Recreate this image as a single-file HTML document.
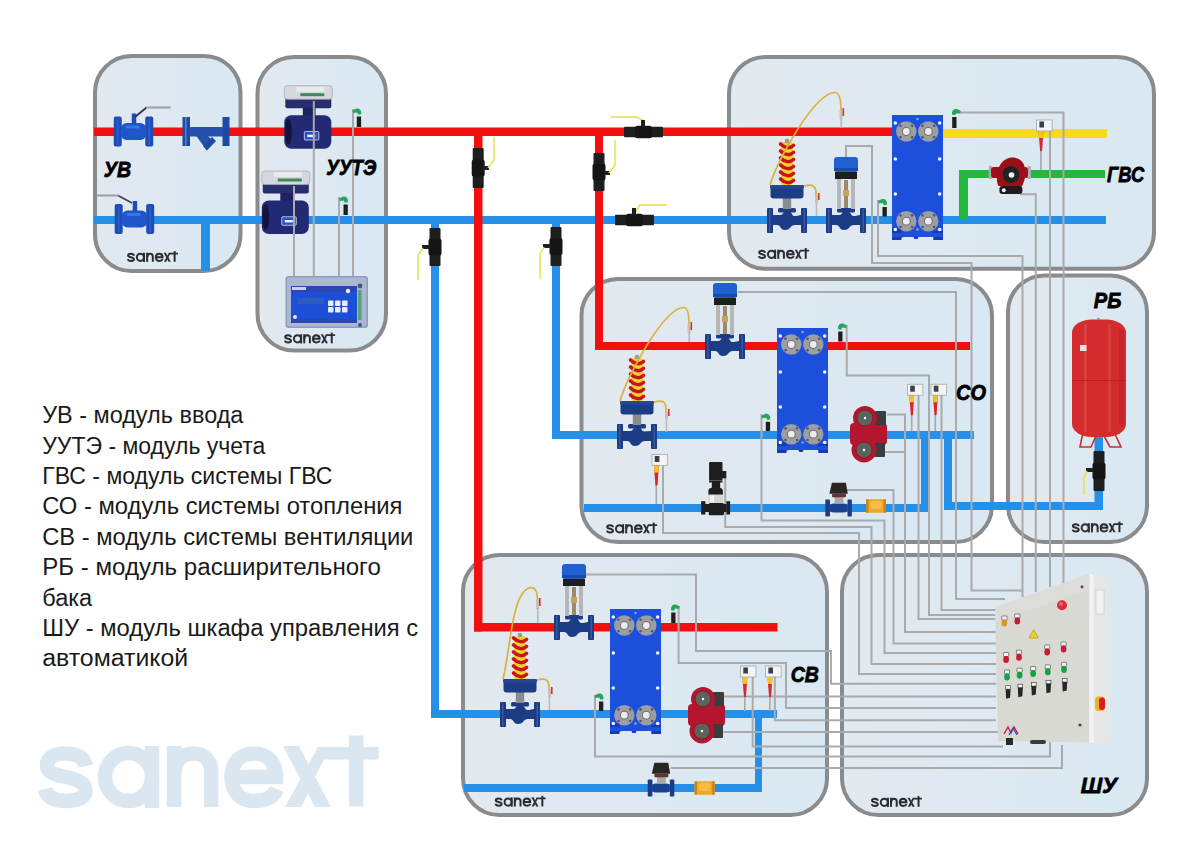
<!DOCTYPE html>
<html><head><meta charset="utf-8"><title>Тепловой пункт</title>
<style>html,body{margin:0;padding:0;background:#fff;}body{width:1200px;height:852px;overflow:hidden;font-family:"Liberation Sans",sans-serif;}svg{display:block;}</style>
</head><body>
<svg width="1200" height="852" viewBox="0 0 1200 852">
<defs><linearGradient id="bf" x1="0" y1="0" x2="1" y2="0"><stop offset="0" stop-color="#e2e9ef"/><stop offset="1" stop-color="#d9e8f2"/></linearGradient></defs>
<rect width="1200" height="852" fill="#ffffff"/>
<defs><g id="logo"><path d="M86,766 C84,757 76,753.5 65.5,753.5 C54,753.5 47,758 47,765.5 C47,773 56,775 66,777 C78,779.5 85.5,783 85.5,790.5 C85.5,798 77,801 66,801 C55,801 47,797.5 45,789" fill="none" stroke-width="14.5"/><ellipse cx="128.5" cy="777" rx="23.5" ry="24" fill="none" stroke-width="14.5"/><rect x="144.8" y="746" width="14.5" height="62" stroke="none"/><rect x="166.8" y="746" width="14.5" height="61" stroke="none"/><path d="M174,777 C174,760 182,753.5 193,753.5 C204,753.5 211.2,760 211.2,772 L211.2,807" fill="none" stroke-width="14.5"/><path d="M277,789 C273,798 265,801 253.5,801 C240,801 231.5,791 231.5,777 C231.5,762 241,753.5 253.5,753.5 C267,753.5 276,762 276,777 L231.5,777" fill="none" stroke-width="14.5"/><path d="M283,746 L298.95,746 L331,807 L315.05,807 Z" stroke="none"/><path d="M300.95,807 L285,807 L303,774 L311,788 Z" stroke="none"/><path d="M307,767 L318,747 L378.5,747 L378.5,759.47 L324,759.47 L314,779 Z" stroke="none"/><rect x="348.95" y="735.5" width="14.5" height="71" stroke="none"/></g><g id="logos"><path d="M86,766 C84,757 76,753.5 65.5,753.5 C54,753.5 47,758 47,765.5 C47,773 56,775 66,777 C78,779.5 85.5,783 85.5,790.5 C85.5,798 77,801 66,801 C55,801 47,797.5 45,789" fill="none" stroke-width="13.2"/><ellipse cx="128.5" cy="777" rx="23.5" ry="24" fill="none" stroke-width="13.2"/><rect x="146.10000000000002" y="746" width="13.2" height="62" stroke="none"/><rect x="166.8" y="746" width="13.2" height="61" stroke="none"/><path d="M174,777 C174,760 182,753.5 193,753.5 C204,753.5 211.2,760 211.2,772 L211.2,807" fill="none" stroke-width="13.2"/><path d="M277,789 C273,798 265,801 253.5,801 C240,801 231.5,791 231.5,777 C231.5,762 241,753.5 253.5,753.5 C267,753.5 276,762 276,777 L231.5,777" fill="none" stroke-width="13.2"/><path d="M283,746 L297.52,746 L331,807 L316.48,807 Z" stroke="none"/><path d="M299.52,807 L285,807 L303,774 L311,788 Z" stroke="none"/><path d="M307,767 L318,747 L378.5,747 L378.5,758.352 L324,758.352 L314,779 Z" stroke="none"/><rect x="349.59999999999997" y="735.5" width="13.2" height="71" stroke="none"/></g></defs>
<use href="#logo" fill="#dae7f1" stroke="#dae7f1"/>
<rect x="95" y="56" width="145.5" height="215" rx="36.5" ry="36.5" fill="url(#bf)" stroke="#898b8d" stroke-width="4"/>
<rect x="257.5" y="57" width="128.5" height="293.5" rx="36.5" ry="36.5" fill="url(#bf)" stroke="#898b8d" stroke-width="4"/>
<rect x="729" y="57" width="425" height="211.8" rx="36.5" ry="36.5" fill="url(#bf)" stroke="#898b8d" stroke-width="4"/>
<rect x="581.5" y="279" width="410.5" height="263" rx="36.5" ry="36.5" fill="url(#bf)" stroke="#898b8d" stroke-width="4"/>
<rect x="1008" y="275.5" width="139" height="266.5" rx="36.5" ry="36.5" fill="url(#bf)" stroke="#898b8d" stroke-width="4"/>
<rect x="463" y="555" width="364" height="260" rx="36.5" ry="36.5" fill="url(#bf)" stroke="#898b8d" stroke-width="4"/>
<rect x="842" y="555" width="305" height="260" rx="36.5" ry="36.5" fill="url(#bf)" stroke="#898b8d" stroke-width="4"/>
<rect x="94" y="127.5" width="798" height="8.5" fill="#f20f0f"/>
<rect x="94" y="216" width="1012" height="8" fill="#2690e8"/>
<rect x="201" y="220" width="9" height="51" fill="#2690e8"/>
<rect x="474" y="132" width="8.5" height="499.5" fill="#f20f0f"/>
<rect x="474" y="623" width="303.5" height="8.5" fill="#f20f0f"/>
<rect x="595" y="132" width="8" height="218" fill="#f20f0f"/>
<rect x="595" y="342" width="375" height="8" fill="#f20f0f"/>
<rect x="431" y="220" width="8" height="498" fill="#2690e8"/>
<rect x="431" y="710" width="346" height="8" fill="#2690e8"/>
<rect x="552" y="220" width="8" height="219" fill="#2690e8"/>
<rect x="552" y="431" width="422" height="8" fill="#2690e8"/>
<rect x="584" y="504" width="344" height="8" fill="#2690e8"/>
<rect x="921" y="435" width="7" height="77" fill="#2690e8"/>
<rect x="944" y="435" width="8" height="75" fill="#2690e8"/>
<rect x="944" y="502" width="159" height="8" fill="#2690e8"/>
<rect x="1094.5" y="437" width="8.5" height="73" fill="#2690e8"/>
<rect x="464" y="784" width="298" height="8" fill="#2690e8"/>
<rect x="755" y="714" width="7" height="78" fill="#2690e8"/>
<rect x="942" y="129" width="165" height="9" fill="#f5da22"/>
<rect x="959" y="170" width="146" height="8" fill="#20b93c"/>
<rect x="959" y="170" width="9" height="50" fill="#20b93c"/>
<path d="M339,197 L339,276" fill="none" stroke="#a8aaac" stroke-width="2"/>
<path d="M353,109 L353,276" fill="none" stroke="#a8aaac" stroke-width="2"/>
<path d="M846,158 L846,146 L872,146 L872,263 L971.5,263 L971.5,590.5 L1022.5,590.5" fill="none" stroke="#a8aaac" stroke-width="2"/>
<path d="M878,200 L878,256 L1022.5,256 L1022.5,597" fill="none" stroke="#a8aaac" stroke-width="2"/>
<path d="M955,112.5 L1063.5,112.5 L1063.5,583" fill="none" stroke="#a8aaac" stroke-width="2"/>
<path d="M1050,130 L1050,587" fill="none" stroke="#a8aaac" stroke-width="2"/>
<path d="M1020,194.3 L1035.8,194.3 L1035.8,592" fill="none" stroke="#a8aaac" stroke-width="2"/>
<path d="M738,292 L956,292 L956,599 L1005,599" fill="none" stroke="#a8aaac" stroke-width="2"/>
<path d="M846.7,325 L846.7,375.5 L929,375.5 L929,615 L996,615" fill="none" stroke="#a8aaac" stroke-width="2"/>
<path d="M918.5,395 L918.5,619 L996,619" fill="none" stroke="#a8aaac" stroke-width="2"/>
<path d="M941.5,395 L941.5,610 L996,610" fill="none" stroke="#a8aaac" stroke-width="2"/>
<path d="M887,414.5 L905,414.5 L905,632 L996,632" fill="none" stroke="#a8aaac" stroke-width="2"/>
<path d="M885,452 L905,452" fill="none" stroke="#a8aaac" stroke-width="2"/>
<path d="M847,490 L893.5,490 L893.5,643.5 L996,643.5" fill="none" stroke="#a8aaac" stroke-width="2"/>
<path d="M761.5,414 L761.5,520.5 L884.5,520.5 L884.5,653 L996,653" fill="none" stroke="#a8aaac" stroke-width="2"/>
<path d="M725.2,478 L725.2,527 L871.5,527 L871.5,664 L996,664" fill="none" stroke="#a8aaac" stroke-width="2"/>
<path d="M663,466 L663,533 L859,533 L859,674 L996,674" fill="none" stroke="#a8aaac" stroke-width="2"/>
<path d="M586,574.5 L696,574.5 L696,651 L831,651 L831,683.7 L996,683.7" fill="none" stroke="#a8aaac" stroke-width="2"/>
<path d="M723.5,696.5 L996,696.5" fill="none" stroke="#a8aaac" stroke-width="2"/>
<path d="M678.6,607 L678.6,663 L786,663 L786,708 L996,708" fill="none" stroke="#a8aaac" stroke-width="2"/>
<path d="M774.8,677 L774.8,720.2 L996,720.2" fill="none" stroke="#a8aaac" stroke-width="2"/>
<path d="M723.5,732 L998,732" fill="none" stroke="#a8aaac" stroke-width="2"/>
<path d="M752.7,676 L752.7,746.5 L1003,746.5" fill="none" stroke="#a8aaac" stroke-width="2"/>
<path d="M595,695 L595,756.4 L1050,756.4 L1050,742" fill="none" stroke="#a8aaac" stroke-width="2"/>
<path d="M671,768 L1062,768 L1062,745" fill="none" stroke="#a8aaac" stroke-width="2"/>
<rect x="624" y="126.7" width="39" height="10.6" rx="1" fill="#1e1e1e"/>
<rect x="635.0" y="125.7" width="17" height="12.6" rx="2.5" fill="#151515"/>
<path d="M643,126 L643,120 L636,117 L611,117" fill="none" stroke="#e6e040" stroke-width="1.4"/>
<rect x="641" y="120" width="4" height="7" fill="#1e1e1e"/>
<rect x="615" y="214.7" width="39" height="10.6" rx="1" fill="#1e1e1e"/>
<rect x="626.0" y="213.7" width="17" height="12.6" rx="2.5" fill="#151515"/>
<path d="M634,214 L640,205 L667,205" fill="none" stroke="#e6e040" stroke-width="1.4"/>
<rect x="632" y="208" width="4" height="7" fill="#1e1e1e"/>
<rect x="472.7" y="148" width="11" height="40" rx="1" fill="#1e1e1e"/>
<rect x="471.7" y="159.5" width="13" height="17" rx="2.5" fill="#151515"/>
<rect x="483" y="166" width="6" height="4" fill="#1e1e1e"/>
<path d="M488,168 L494,160 L494,137" fill="none" stroke="#e6e040" stroke-width="1.4"/>
<rect x="593.5" y="153" width="11" height="38" rx="1" fill="#1e1e1e"/>
<rect x="592.5" y="163.5" width="13" height="17" rx="2.5" fill="#151515"/>
<rect x="604" y="171" width="6" height="4" fill="#1e1e1e"/>
<path d="M609,173 L615,165 L615,140" fill="none" stroke="#e6e040" stroke-width="1.4"/>
<rect x="429.5" y="228" width="11" height="38" rx="1" fill="#1e1e1e"/>
<rect x="428.5" y="238.5" width="13" height="17" rx="2.5" fill="#151515"/>
<rect x="422" y="245" width="8" height="4" fill="#1e1e1e"/>
<path d="M423,248 L418,255 L418,280" fill="none" stroke="#e6e040" stroke-width="1.4"/>
<rect x="550.5" y="227" width="11" height="39" rx="1" fill="#1e1e1e"/>
<rect x="549.5" y="238.0" width="13" height="17" rx="2.5" fill="#151515"/>
<rect x="543" y="244" width="8" height="4" fill="#1e1e1e"/>
<path d="M544,247 L540,254 L540,279" fill="none" stroke="#e6e040" stroke-width="1.4"/>
<rect x="1093.5" y="451" width="11" height="40" rx="1" fill="#1e1e1e"/>
<rect x="1092.5" y="462.5" width="13" height="17" rx="2.5" fill="#151515"/>
<rect x="1086" y="468" width="8" height="4" fill="#1e1e1e"/>
<path d="M1087,471 L1084,478 L1084,495" fill="none" stroke="#e6e040" stroke-width="1.4"/>
<rect x="892" y="115" width="51" height="122" fill="#1c50dc"/><path d="M892,229 L901.5,229 L901.5,235 L904,237 L892,240 Z" fill="#1638b0"/><rect x="892" y="231" width="9.5" height="9" fill="#1638b0"/><rect x="933.3" y="231" width="9.7" height="9" fill="#1638b0"/><rect x="913.7" y="233" width="4.5" height="6" rx="1.5" fill="#1638b0"/><rect x="892" y="233" width="51" height="4" fill="#1c50dc"/><circle cx="906.3" cy="131.5" r="10.2" fill="#9c9ea2"/><circle cx="906.3" cy="131.5" r="4.4" fill="#6a6c70"/><circle cx="906.3" cy="131.5" r="3.4" fill="#ececec"/><circle cx="900.5" cy="125.7" r="1.3" fill="#55585c"/><circle cx="912.0999999999999" cy="125.7" r="1.3" fill="#55585c"/><circle cx="900.5" cy="137.3" r="1.3" fill="#55585c"/><circle cx="912.0999999999999" cy="137.3" r="1.3" fill="#55585c"/><circle cx="928.3" cy="131.5" r="10.2" fill="#9c9ea2"/><circle cx="928.3" cy="131.5" r="4.4" fill="#6a6c70"/><circle cx="928.3" cy="131.5" r="3.4" fill="#ececec"/><circle cx="922.5" cy="125.7" r="1.3" fill="#55585c"/><circle cx="934.0999999999999" cy="125.7" r="1.3" fill="#55585c"/><circle cx="922.5" cy="137.3" r="1.3" fill="#55585c"/><circle cx="934.0999999999999" cy="137.3" r="1.3" fill="#55585c"/><circle cx="906.3" cy="221.2" r="10.2" fill="#9c9ea2"/><circle cx="906.3" cy="221.2" r="4.4" fill="#6a6c70"/><circle cx="906.3" cy="221.2" r="3.4" fill="#ececec"/><circle cx="900.5" cy="215.39999999999998" r="1.3" fill="#55585c"/><circle cx="912.0999999999999" cy="215.39999999999998" r="1.3" fill="#55585c"/><circle cx="900.5" cy="227.0" r="1.3" fill="#55585c"/><circle cx="912.0999999999999" cy="227.0" r="1.3" fill="#55585c"/><circle cx="928.3" cy="221.2" r="10.2" fill="#9c9ea2"/><circle cx="928.3" cy="221.2" r="4.4" fill="#6a6c70"/><circle cx="928.3" cy="221.2" r="3.4" fill="#ececec"/><circle cx="922.5" cy="215.39999999999998" r="1.3" fill="#55585c"/><circle cx="934.0999999999999" cy="215.39999999999998" r="1.3" fill="#55585c"/><circle cx="922.5" cy="227.0" r="1.3" fill="#55585c"/><circle cx="934.0999999999999" cy="227.0" r="1.3" fill="#55585c"/><circle cx="895.3" cy="123" r="1.8" fill="#f2f4f8"/><circle cx="939.7" cy="123" r="1.8" fill="#f2f4f8"/><circle cx="895.3" cy="159" r="1.8" fill="#f2f4f8"/><circle cx="939.7" cy="159" r="1.8" fill="#f2f4f8"/><circle cx="895.3" cy="194" r="1.8" fill="#f2f4f8"/><circle cx="939.7" cy="194" r="1.8" fill="#f2f4f8"/><circle cx="895.3" cy="229.5" r="1.8" fill="#f2f4f8"/><circle cx="939.7" cy="229.5" r="1.8" fill="#f2f4f8"/><circle cx="917.5" cy="119" r="1.2" fill="#8fa8e8"/><circle cx="917.5" cy="229.5" r="1.2" fill="#8fa8e8"/>
<rect x="777" y="328" width="51" height="122" fill="#1c50dc"/><path d="M777,442 L786.5,442 L786.5,448 L789,450 L777,453 Z" fill="#1638b0"/><rect x="777" y="444" width="9.5" height="9" fill="#1638b0"/><rect x="818.3" y="444" width="9.7" height="9" fill="#1638b0"/><rect x="798.7" y="446" width="4.5" height="6" rx="1.5" fill="#1638b0"/><rect x="777" y="446" width="51" height="4" fill="#1c50dc"/><circle cx="791.3" cy="344.5" r="10.2" fill="#9c9ea2"/><circle cx="791.3" cy="344.5" r="4.4" fill="#6a6c70"/><circle cx="791.3" cy="344.5" r="3.4" fill="#ececec"/><circle cx="785.5" cy="338.7" r="1.3" fill="#55585c"/><circle cx="797.0999999999999" cy="338.7" r="1.3" fill="#55585c"/><circle cx="785.5" cy="350.3" r="1.3" fill="#55585c"/><circle cx="797.0999999999999" cy="350.3" r="1.3" fill="#55585c"/><circle cx="813.3" cy="344.5" r="10.2" fill="#9c9ea2"/><circle cx="813.3" cy="344.5" r="4.4" fill="#6a6c70"/><circle cx="813.3" cy="344.5" r="3.4" fill="#ececec"/><circle cx="807.5" cy="338.7" r="1.3" fill="#55585c"/><circle cx="819.0999999999999" cy="338.7" r="1.3" fill="#55585c"/><circle cx="807.5" cy="350.3" r="1.3" fill="#55585c"/><circle cx="819.0999999999999" cy="350.3" r="1.3" fill="#55585c"/><circle cx="791.3" cy="434.2" r="10.2" fill="#9c9ea2"/><circle cx="791.3" cy="434.2" r="4.4" fill="#6a6c70"/><circle cx="791.3" cy="434.2" r="3.4" fill="#ececec"/><circle cx="785.5" cy="428.4" r="1.3" fill="#55585c"/><circle cx="797.0999999999999" cy="428.4" r="1.3" fill="#55585c"/><circle cx="785.5" cy="440.0" r="1.3" fill="#55585c"/><circle cx="797.0999999999999" cy="440.0" r="1.3" fill="#55585c"/><circle cx="813.3" cy="434.2" r="10.2" fill="#9c9ea2"/><circle cx="813.3" cy="434.2" r="4.4" fill="#6a6c70"/><circle cx="813.3" cy="434.2" r="3.4" fill="#ececec"/><circle cx="807.5" cy="428.4" r="1.3" fill="#55585c"/><circle cx="819.0999999999999" cy="428.4" r="1.3" fill="#55585c"/><circle cx="807.5" cy="440.0" r="1.3" fill="#55585c"/><circle cx="819.0999999999999" cy="440.0" r="1.3" fill="#55585c"/><circle cx="780.3" cy="336" r="1.8" fill="#f2f4f8"/><circle cx="824.7" cy="336" r="1.8" fill="#f2f4f8"/><circle cx="780.3" cy="372" r="1.8" fill="#f2f4f8"/><circle cx="824.7" cy="372" r="1.8" fill="#f2f4f8"/><circle cx="780.3" cy="407" r="1.8" fill="#f2f4f8"/><circle cx="824.7" cy="407" r="1.8" fill="#f2f4f8"/><circle cx="780.3" cy="442.5" r="1.8" fill="#f2f4f8"/><circle cx="824.7" cy="442.5" r="1.8" fill="#f2f4f8"/><circle cx="802.5" cy="332" r="1.2" fill="#8fa8e8"/><circle cx="802.5" cy="442.5" r="1.2" fill="#8fa8e8"/>
<rect x="610" y="609" width="51" height="122" fill="#1c50dc"/><path d="M610,723 L619.5,723 L619.5,729 L622,731 L610,734 Z" fill="#1638b0"/><rect x="610" y="725" width="9.5" height="9" fill="#1638b0"/><rect x="651.3" y="725" width="9.7" height="9" fill="#1638b0"/><rect x="631.7" y="727" width="4.5" height="6" rx="1.5" fill="#1638b0"/><rect x="610" y="727" width="51" height="4" fill="#1c50dc"/><circle cx="624.3" cy="625.5" r="10.2" fill="#9c9ea2"/><circle cx="624.3" cy="625.5" r="4.4" fill="#6a6c70"/><circle cx="624.3" cy="625.5" r="3.4" fill="#ececec"/><circle cx="618.5" cy="619.7" r="1.3" fill="#55585c"/><circle cx="630.0999999999999" cy="619.7" r="1.3" fill="#55585c"/><circle cx="618.5" cy="631.3" r="1.3" fill="#55585c"/><circle cx="630.0999999999999" cy="631.3" r="1.3" fill="#55585c"/><circle cx="646.3" cy="625.5" r="10.2" fill="#9c9ea2"/><circle cx="646.3" cy="625.5" r="4.4" fill="#6a6c70"/><circle cx="646.3" cy="625.5" r="3.4" fill="#ececec"/><circle cx="640.5" cy="619.7" r="1.3" fill="#55585c"/><circle cx="652.0999999999999" cy="619.7" r="1.3" fill="#55585c"/><circle cx="640.5" cy="631.3" r="1.3" fill="#55585c"/><circle cx="652.0999999999999" cy="631.3" r="1.3" fill="#55585c"/><circle cx="624.3" cy="715.2" r="10.2" fill="#9c9ea2"/><circle cx="624.3" cy="715.2" r="4.4" fill="#6a6c70"/><circle cx="624.3" cy="715.2" r="3.4" fill="#ececec"/><circle cx="618.5" cy="709.4000000000001" r="1.3" fill="#55585c"/><circle cx="630.0999999999999" cy="709.4000000000001" r="1.3" fill="#55585c"/><circle cx="618.5" cy="721.0" r="1.3" fill="#55585c"/><circle cx="630.0999999999999" cy="721.0" r="1.3" fill="#55585c"/><circle cx="646.3" cy="715.2" r="10.2" fill="#9c9ea2"/><circle cx="646.3" cy="715.2" r="4.4" fill="#6a6c70"/><circle cx="646.3" cy="715.2" r="3.4" fill="#ececec"/><circle cx="640.5" cy="709.4000000000001" r="1.3" fill="#55585c"/><circle cx="652.0999999999999" cy="709.4000000000001" r="1.3" fill="#55585c"/><circle cx="640.5" cy="721.0" r="1.3" fill="#55585c"/><circle cx="652.0999999999999" cy="721.0" r="1.3" fill="#55585c"/><circle cx="613.3" cy="617" r="1.8" fill="#f2f4f8"/><circle cx="657.7" cy="617" r="1.8" fill="#f2f4f8"/><circle cx="613.3" cy="653" r="1.8" fill="#f2f4f8"/><circle cx="657.7" cy="653" r="1.8" fill="#f2f4f8"/><circle cx="613.3" cy="688" r="1.8" fill="#f2f4f8"/><circle cx="657.7" cy="688" r="1.8" fill="#f2f4f8"/><circle cx="613.3" cy="723.5" r="1.8" fill="#f2f4f8"/><circle cx="657.7" cy="723.5" r="1.8" fill="#f2f4f8"/><circle cx="635.5" cy="613" r="1.2" fill="#8fa8e8"/><circle cx="635.5" cy="723.5" r="1.2" fill="#8fa8e8"/>
<g transform="translate(846,220) scale(1.0)"><rect x="-20" y="-12" width="6" height="25" rx="0.8" fill="#1c3c86"/><rect x="14" y="-12" width="6" height="25" rx="0.8" fill="#1c3c86"/><rect x="-17.6" y="-11" width="0.9" height="23" fill="#4a6ab0"/><rect x="16.7" y="-11" width="0.9" height="23" fill="#4a6ab0"/><path d="M-14,-5 L-7,-5 C-3,-5 -5,-9 0,-9 C6,-9 4,-3 9,-4 L14,-5 L14,5 L8,5 C3,5 4,10 -2,10 C-7,10 -6,5 -10,5 L-14,5 Z" fill="#1c3c86"/><rect x="-9" y="-12" width="18" height="4.5" rx="1.5" fill="#1c3c86"/></g><rect x="837" y="178" width="4" height="31" fill="#b4b6b8"/><rect x="851" y="178" width="4" height="31" fill="#b4b6b8"/><rect x="844" y="180" width="4" height="28" fill="#9a8a6a"/><rect x="843" y="190" width="6" height="6" fill="#c9a25c"/><rect x="835" y="172" width="22" height="7" fill="#1e1e1e"/><rect x="834" y="157" width="24" height="15" rx="3" fill="#2060d0"/><rect x="834" y="168" width="24" height="3" fill="#1a4aa8"/>
<g transform="translate(787,220) scale(1.0)"><rect x="-20" y="-12" width="6" height="25" rx="0.8" fill="#1c3c86"/><rect x="14" y="-12" width="6" height="25" rx="0.8" fill="#1c3c86"/><rect x="-17.6" y="-11" width="0.9" height="23" fill="#4a6ab0"/><rect x="16.7" y="-11" width="0.9" height="23" fill="#4a6ab0"/><path d="M-14,-5 L-7,-5 C-3,-5 -5,-9 0,-9 C6,-9 4,-3 9,-4 L14,-5 L14,5 L8,5 C3,5 4,10 -2,10 C-7,10 -6,5 -10,5 L-14,5 Z" fill="#1c3c86"/><rect x="-9" y="-12" width="18" height="4.5" rx="1.5" fill="#1c3c86"/></g><rect x="782.8" y="198" width="8.4" height="11" fill="#8a8c90"/><rect x="770.5" y="185" width="33" height="13.5" rx="3" fill="#1c3c86"/><rect x="770" y="185" width="34" height="3.5" rx="1" fill="#28478e"/><rect x="781" y="142" width="12" height="43" rx="3" fill="#f2d224"/><path d="M780.5,144.0 C785,148.5 790,148.5 793.5,145.5" fill="none" stroke="#c8141e" stroke-width="3.6" stroke-linecap="round"/><path d="M780.5,151.0 C785,155.5 790,155.5 793.5,152.5" fill="none" stroke="#c8141e" stroke-width="3.6" stroke-linecap="round"/><path d="M780.5,158.0 C785,162.5 790,162.5 793.5,159.5" fill="none" stroke="#c8141e" stroke-width="3.6" stroke-linecap="round"/><path d="M780.5,165.0 C785,169.5 790,169.5 793.5,166.5" fill="none" stroke="#c8141e" stroke-width="3.6" stroke-linecap="round"/><path d="M780.5,172.0 C785,176.5 790,176.5 793.5,173.5" fill="none" stroke="#c8141e" stroke-width="3.6" stroke-linecap="round"/><path d="M780.5,179.0 C785,183.5 790,183.5 793.5,180.5" fill="none" stroke="#c8141e" stroke-width="3.6" stroke-linecap="round"/><circle cx="787" cy="141" r="2.3" fill="#9a9a9a"/><path d="M770,185 C777,160 815,92.5 835,92.5 C840,92.5 841,103 841,111" fill="none" stroke="#d9b23a" stroke-width="1.7"/><rect x="839.5" y="110" width="3" height="9" fill="#c8c0b0"/><rect x="842.5" y="108" width="1.6" height="8" fill="#d83030"/><path d="M804,186 C811,184 817,184 816,196" fill="none" stroke="#d9b23a" stroke-width="1.7"/><rect x="815" y="195" width="3" height="8" fill="#c8c0b0"/><rect x="818" y="193" width="1.6" height="7" fill="#d83030"/><rect x="815.7" y="203" width="1.5" height="13" fill="#b8b8b8"/>
<rect x="840.5" y="118" width="1.6" height="10" fill="#b8b8b8"/>
<g transform="translate(725,346) scale(1.0)"><rect x="-20" y="-12" width="6" height="25" rx="0.8" fill="#1c3c86"/><rect x="14" y="-12" width="6" height="25" rx="0.8" fill="#1c3c86"/><rect x="-17.6" y="-11" width="0.9" height="23" fill="#4a6ab0"/><rect x="16.7" y="-11" width="0.9" height="23" fill="#4a6ab0"/><path d="M-14,-5 L-7,-5 C-3,-5 -5,-9 0,-9 C6,-9 4,-3 9,-4 L14,-5 L14,5 L8,5 C3,5 4,10 -2,10 C-7,10 -6,5 -10,5 L-14,5 Z" fill="#1c3c86"/><rect x="-9" y="-12" width="18" height="4.5" rx="1.5" fill="#1c3c86"/></g><rect x="716" y="304" width="4" height="31" fill="#b4b6b8"/><rect x="730" y="304" width="4" height="31" fill="#b4b6b8"/><rect x="723" y="306" width="4" height="28" fill="#9a8a6a"/><rect x="722" y="316" width="6" height="6" fill="#c9a25c"/><rect x="714" y="298" width="22" height="7" fill="#1e1e1e"/><rect x="713" y="283" width="24" height="15" rx="3" fill="#2060d0"/><rect x="713" y="294" width="24" height="3" fill="#1a4aa8"/>
<g transform="translate(637,436) scale(1.0)"><rect x="-20" y="-12" width="6" height="25" rx="0.8" fill="#1c3c86"/><rect x="14" y="-12" width="6" height="25" rx="0.8" fill="#1c3c86"/><rect x="-17.6" y="-11" width="0.9" height="23" fill="#4a6ab0"/><rect x="16.7" y="-11" width="0.9" height="23" fill="#4a6ab0"/><path d="M-14,-5 L-7,-5 C-3,-5 -5,-9 0,-9 C6,-9 4,-3 9,-4 L14,-5 L14,5 L8,5 C3,5 4,10 -2,10 C-7,10 -6,5 -10,5 L-14,5 Z" fill="#1c3c86"/><rect x="-9" y="-12" width="18" height="4.5" rx="1.5" fill="#1c3c86"/></g><rect x="632.8" y="414" width="8.4" height="11" fill="#8a8c90"/><rect x="620.5" y="401" width="33" height="13.5" rx="3" fill="#1c3c86"/><rect x="620" y="401" width="34" height="3.5" rx="1" fill="#28478e"/><rect x="631" y="358" width="12" height="43" rx="3" fill="#f2d224"/><path d="M630.5,360.0 C635,364.5 640,364.5 643.5,361.5" fill="none" stroke="#c8141e" stroke-width="3.6" stroke-linecap="round"/><path d="M630.5,367.0 C635,371.5 640,371.5 643.5,368.5" fill="none" stroke="#c8141e" stroke-width="3.6" stroke-linecap="round"/><path d="M630.5,374.0 C635,378.5 640,378.5 643.5,375.5" fill="none" stroke="#c8141e" stroke-width="3.6" stroke-linecap="round"/><path d="M630.5,381.0 C635,385.5 640,385.5 643.5,382.5" fill="none" stroke="#c8141e" stroke-width="3.6" stroke-linecap="round"/><path d="M630.5,388.0 C635,392.5 640,392.5 643.5,389.5" fill="none" stroke="#c8141e" stroke-width="3.6" stroke-linecap="round"/><path d="M630.5,395.0 C635,399.5 640,399.5 643.5,396.5" fill="none" stroke="#c8141e" stroke-width="3.6" stroke-linecap="round"/><circle cx="637" cy="357" r="2.3" fill="#9a9a9a"/><path d="M620,401 C627,376 664,307.5 684,307.5 C688,307.5 689,317 689,325" fill="none" stroke="#d9b23a" stroke-width="1.7"/><rect x="687.5" y="324" width="3" height="9" fill="#c8c0b0"/><rect x="690.5" y="322" width="1.6" height="8" fill="#d83030"/><path d="M654,402 C661,400 667,400 666,412" fill="none" stroke="#d9b23a" stroke-width="1.7"/><rect x="665" y="411" width="3" height="8" fill="#c8c0b0"/><rect x="668" y="409" width="1.6" height="7" fill="#d83030"/><rect x="665.7" y="419" width="1.5" height="13" fill="#b8b8b8"/>
<rect x="688.5" y="332" width="1.6" height="10" fill="#b8b8b8"/>
<g transform="translate(574,627) scale(1.0)"><rect x="-20" y="-12" width="6" height="25" rx="0.8" fill="#1c3c86"/><rect x="14" y="-12" width="6" height="25" rx="0.8" fill="#1c3c86"/><rect x="-17.6" y="-11" width="0.9" height="23" fill="#4a6ab0"/><rect x="16.7" y="-11" width="0.9" height="23" fill="#4a6ab0"/><path d="M-14,-5 L-7,-5 C-3,-5 -5,-9 0,-9 C6,-9 4,-3 9,-4 L14,-5 L14,5 L8,5 C3,5 4,10 -2,10 C-7,10 -6,5 -10,5 L-14,5 Z" fill="#1c3c86"/><rect x="-9" y="-12" width="18" height="4.5" rx="1.5" fill="#1c3c86"/></g><rect x="565" y="585" width="4" height="31" fill="#b4b6b8"/><rect x="579" y="585" width="4" height="31" fill="#b4b6b8"/><rect x="572" y="587" width="4" height="28" fill="#9a8a6a"/><rect x="571" y="597" width="6" height="6" fill="#c9a25c"/><rect x="563" y="579" width="22" height="7" fill="#1e1e1e"/><rect x="562" y="564" width="24" height="15" rx="3" fill="#2060d0"/><rect x="562" y="575" width="24" height="3" fill="#1a4aa8"/>
<g transform="translate(520,714) scale(1.0)"><rect x="-20" y="-12" width="6" height="25" rx="0.8" fill="#1c3c86"/><rect x="14" y="-12" width="6" height="25" rx="0.8" fill="#1c3c86"/><rect x="-17.6" y="-11" width="0.9" height="23" fill="#4a6ab0"/><rect x="16.7" y="-11" width="0.9" height="23" fill="#4a6ab0"/><path d="M-14,-5 L-7,-5 C-3,-5 -5,-9 0,-9 C6,-9 4,-3 9,-4 L14,-5 L14,5 L8,5 C3,5 4,10 -2,10 C-7,10 -6,5 -10,5 L-14,5 Z" fill="#1c3c86"/><rect x="-9" y="-12" width="18" height="4.5" rx="1.5" fill="#1c3c86"/></g><rect x="515.8" y="692" width="8.4" height="11" fill="#8a8c90"/><rect x="503.5" y="679" width="33" height="13.5" rx="3" fill="#1c3c86"/><rect x="503" y="679" width="34" height="3.5" rx="1" fill="#28478e"/><rect x="514" y="636" width="12" height="43" rx="3" fill="#f2d224"/><path d="M513.5,638.0 C518,642.5 523,642.5 526.5,639.5" fill="none" stroke="#c8141e" stroke-width="3.6" stroke-linecap="round"/><path d="M513.5,645.0 C518,649.5 523,649.5 526.5,646.5" fill="none" stroke="#c8141e" stroke-width="3.6" stroke-linecap="round"/><path d="M513.5,652.0 C518,656.5 523,656.5 526.5,653.5" fill="none" stroke="#c8141e" stroke-width="3.6" stroke-linecap="round"/><path d="M513.5,659.0 C518,663.5 523,663.5 526.5,660.5" fill="none" stroke="#c8141e" stroke-width="3.6" stroke-linecap="round"/><path d="M513.5,666.0 C518,670.5 523,670.5 526.5,667.5" fill="none" stroke="#c8141e" stroke-width="3.6" stroke-linecap="round"/><path d="M513.5,673.0 C518,677.5 523,677.5 526.5,674.5" fill="none" stroke="#c8141e" stroke-width="3.6" stroke-linecap="round"/><circle cx="520" cy="635" r="2.3" fill="#9a9a9a"/><path d="M503,679 C510,654 511.6,587.6 531.6,587.6 C536.5,587.6 537.5,593 537.5,601" fill="none" stroke="#d9b23a" stroke-width="1.7"/><rect x="536.0" y="600" width="3" height="9" fill="#c8c0b0"/><rect x="539.0" y="598" width="1.6" height="8" fill="#d83030"/><path d="M537,680 C544,678 550,678 549,690" fill="none" stroke="#d9b23a" stroke-width="1.7"/><rect x="548" y="689" width="3" height="8" fill="#c8c0b0"/><rect x="551" y="687" width="1.6" height="7" fill="#d83030"/><rect x="548.7" y="697" width="1.5" height="13" fill="#b8b8b8"/>
<rect x="537" y="608" width="1.6" height="15" fill="#b8b8b8"/>
<rect x="850" y="423" width="37" height="22" rx="4" fill="#b3162e"/><rect x="875" y="411" width="11" height="14" rx="1" fill="#3b3c3e"/><rect x="874" y="443" width="11" height="14" rx="1" fill="#3b3c3e"/><circle cx="865" cy="418" r="12" fill="#b3162e"/><circle cx="865" cy="418" r="8" fill="#5c625c" stroke="#8a1020" stroke-width="0.8"/><circle cx="864" cy="450" r="12.5" fill="#b3162e"/><circle cx="864" cy="450" r="8" fill="#5c625c" stroke="#8a1020" stroke-width="0.8"/><circle cx="865" cy="418" r="1.2" fill="#fff"/><circle cx="864" cy="450" r="1.2" fill="#fff"/>
<rect x="688" y="704" width="37" height="22" rx="4" fill="#b3162e"/><rect x="713" y="692" width="11" height="14" rx="1" fill="#3b3c3e"/><rect x="712" y="724" width="11" height="14" rx="1" fill="#3b3c3e"/><circle cx="703" cy="699" r="12" fill="#b3162e"/><circle cx="703" cy="699" r="8" fill="#5c625c" stroke="#8a1020" stroke-width="0.8"/><circle cx="702" cy="731" r="12.5" fill="#b3162e"/><circle cx="702" cy="731" r="8" fill="#5c625c" stroke="#8a1020" stroke-width="0.8"/><circle cx="703" cy="699" r="1.2" fill="#fff"/><circle cx="702" cy="731" r="1.2" fill="#fff"/>
<rect x="988.8" y="166" width="3.5" height="13" rx="1" fill="#a8acb4"/>
<rect x="1027.5" y="166" width="3.5" height="13" rx="1" fill="#a8acb4"/>
<rect x="991" y="167" width="37" height="11" rx="3" fill="#a01018"/>
<path d="M998.5,186 C995,180 996,160 1011,157.5 C1024,157 1027,168 1024.5,180 L1022,186.5 Z" fill="#9c0e18"/>
<circle cx="1011" cy="174.5" r="8.5" fill="#1e2424"/>
<circle cx="1011.5" cy="175" r="2.8" fill="#f2f2f2"/>
<rect x="999.4" y="186" width="23" height="8" rx="3" fill="#1c1c1c"/>
<circle cx="1003.8" cy="190.2" r="2" fill="#f0f0f0"/>
<rect x="1040.1" y="134" width="1.6" height="36" fill="#a6a8aa"/><rect x="1036.6" y="120" width="15.5" height="11" fill="#f3f4f5" stroke="#9a9c9e" stroke-width="0.7"/><rect x="1039.3999999999999" y="121.5" width="4.6" height="6" fill="#3c3e42"/><path d="M1038.6,131 L1043.3999999999999,131 L1042.8999999999999,139 L1042.1,151 L1040.1,151 L1039.1,139 Z" fill="#d8262a"/><path d="M1038.6,131 L1043.3999999999999,131 L1042.8999999999999,138 L1039.1,138 Z" fill="#f2c420"/>
<rect x="910.9" y="398.2" width="1.6" height="32.80000000000001" fill="#a6a8aa"/><rect x="907.4" y="384.2" width="15.5" height="11" fill="#f3f4f5" stroke="#9a9c9e" stroke-width="0.7"/><rect x="910.1999999999999" y="385.7" width="4.6" height="6" fill="#3c3e42"/><path d="M909.4,395.2 L914.1999999999999,395.2 L913.6999999999999,403.2 L912.9,415.2 L910.9,415.2 L909.9,403.2 Z" fill="#d8262a"/><path d="M909.4,395.2 L914.1999999999999,395.2 L913.6999999999999,402.2 L909.9,402.2 Z" fill="#f2c420"/>
<rect x="934.5" y="398.2" width="1.6" height="32.80000000000001" fill="#a6a8aa"/><rect x="931" y="384.2" width="15.5" height="11" fill="#f3f4f5" stroke="#9a9c9e" stroke-width="0.7"/><rect x="933.8" y="385.7" width="4.6" height="6" fill="#3c3e42"/><path d="M933,395.2 L937.8,395.2 L937.3,403.2 L936.5,415.2 L934.5,415.2 L933.5,403.2 Z" fill="#d8262a"/><path d="M933,395.2 L937.8,395.2 L937.3,402.2 L933.5,402.2 Z" fill="#f2c420"/>
<rect x="655.5" y="468.5" width="1.6" height="35.5" fill="#a6a8aa"/><rect x="652" y="454.5" width="15.5" height="11" fill="#f3f4f5" stroke="#9a9c9e" stroke-width="0.7"/><rect x="654.8" y="456.0" width="4.6" height="6" fill="#3c3e42"/><path d="M654,465.5 L658.8,465.5 L658.3,473.5 L657.5,485.5 L655.5,485.5 L654.5,473.5 Z" fill="#d8262a"/><path d="M654,465.5 L658.8,465.5 L658.3,472.5 L654.5,472.5 Z" fill="#f2c420"/>
<rect x="744.0" y="680" width="1.6" height="31" fill="#a6a8aa"/><rect x="740.5" y="666" width="15.5" height="11" fill="#f3f4f5" stroke="#9a9c9e" stroke-width="0.7"/><rect x="743.3" y="667.5" width="4.6" height="6" fill="#3c3e42"/><path d="M742.5,677 L747.3,677 L746.8,685 L746.0,697 L744.0,697 L743.0,685 Z" fill="#d8262a"/><path d="M742.5,677 L747.3,677 L746.8,684 L743.0,684 Z" fill="#f2c420"/>
<rect x="769.1" y="680" width="1.6" height="31" fill="#a6a8aa"/><rect x="765.6" y="666" width="15.5" height="11" fill="#f3f4f5" stroke="#9a9c9e" stroke-width="0.7"/><rect x="768.4" y="667.5" width="4.6" height="6" fill="#3c3e42"/><path d="M767.6,677 L772.4,677 L771.9,685 L771.1,697 L769.1,697 L768.1,685 Z" fill="#d8262a"/><path d="M767.6,677 L772.4,677 L771.9,684 L768.1,684 Z" fill="#f2c420"/>
<path d="M952,113.5 C952,109.5 955,108.5 957,109.0 L961,111.0 L960,113.5 L956,113.0 L955.5,115.0 L952.5,115.0 Z" fill="#23a85a"/><rect x="952.2" y="117.0" width="4.3" height="11.0" fill="#1e1e1e"/>
<path d="M887,203.5 C887,199.5 884,198.5 882,199.0 L878,201.0 L879,203.5 L883,203.0 L883.5,205.0 L886.5,205.0 Z" fill="#23a85a"/><rect x="882.5" y="207.0" width="4.3" height="9.5" fill="#1e1e1e"/>
<path d="M838,328 C838,324 841,323 843,323.5 L847,325.5 L846,328 L842,327.5 L841.5,329.5 L838.5,329.5 Z" fill="#23a85a"/><rect x="838.2" y="331.5" width="4.3" height="10.0" fill="#1e1e1e"/>
<path d="M770.3,418.3 C770.3,414.3 767.3,413.3 765.3,413.8 L761.3,415.8 L762.3,418.3 L766.3,417.8 L766.8,419.8 L769.8,419.8 Z" fill="#23a85a"/><rect x="765.8" y="421.8" width="4.3" height="9.199999999999989" fill="#1e1e1e"/>
<path d="M671,609 C671,605 674,604 676,604.5 L680,606.5 L679,609 L675,608.5 L674.5,610.5 L671.5,610.5 Z" fill="#23a85a"/><rect x="671.2" y="612.5" width="4.3" height="10.5" fill="#1e1e1e"/>
<path d="M603.5,698 C603.5,694 600.5,693 598.5,693.5 L594.5,695.5 L595.5,698 L599.5,697.5 L600.0,699.5 L603.0,699.5 Z" fill="#23a85a"/><rect x="599.0" y="701.5" width="4.3" height="9.5" fill="#1e1e1e"/>
<path d="M361.3,113 C361.3,109 358.3,108 356.3,108.5 L352.3,110.5 L353.3,113 L357.3,112.5 L357.8,114.5 L360.8,114.5 Z" fill="#23a85a"/><rect x="356.8" y="116.5" width="4.3" height="10.5" fill="#1e1e1e"/>
<path d="M348,201 C348,197 345,196 343,196.5 L339,198.5 L340,201 L344,200.5 L344.5,202.5 L347.5,202.5 Z" fill="#23a85a"/><rect x="343.5" y="204.5" width="4.3" height="10.5" fill="#1e1e1e"/>
<rect x="825.3000000000001" y="499.4" width="4.7" height="17.2" rx="0.8" fill="#1c3c86"/><rect x="847.5" y="499.4" width="4.4" height="17.2" rx="0.8" fill="#1c3c86"/><rect x="829.6" y="503.5" width="18" height="9" rx="4" fill="#1a4290"/><rect x="834.6" y="497" width="8.8" height="6.5" fill="#a8a8a8"/><rect x="832.0" y="493.7" width="14" height="3.6" rx="1" fill="#6a3036"/><path d="M831.9,482.8 L845.9,482.8 L847.8000000000001,493.7 L829.4,493.7 Z" fill="#2a2626"/>
<rect x="647.7" y="779.4" width="4.7" height="17.2" rx="0.8" fill="#1c3c86"/><rect x="669.9" y="779.4" width="4.4" height="17.2" rx="0.8" fill="#1c3c86"/><rect x="652" y="783.5" width="18" height="9" rx="4" fill="#1a4290"/><rect x="657" y="777" width="8.8" height="6.5" fill="#a8a8a8"/><rect x="654.4" y="773.7" width="14" height="3.6" rx="1" fill="#6a3036"/><path d="M654.3,762.8 L668.3,762.8 L670.2,773.7 L651.8,773.7 Z" fill="#2a2626"/>
<rect x="866" y="499.2" width="20" height="13.6" rx="3" fill="#eea62a"/>
<rect x="870" y="501" width="12" height="8" rx="2" fill="#f6bc44"/>
<rect x="866" y="499.2" width="2.5" height="13.6" fill="#c8861c"/>
<rect x="883.5" y="499.2" width="2.5" height="13.6" fill="#c8861c"/>
<rect x="694.5" y="781.2" width="20.200000000000045" height="13.6" rx="3" fill="#eea62a"/>
<rect x="698.5" y="783" width="12.200000000000045" height="8" rx="2" fill="#f6bc44"/>
<rect x="694.5" y="781.2" width="2.5" height="13.6" fill="#c8861c"/>
<rect x="712.2" y="781.2" width="2.5" height="13.6" fill="#c8861c"/>
<rect x="709.1" y="462" width="13.4" height="18.6" rx="1" fill="#1e1e1e"/>
<rect x="722" y="471" width="4.3" height="7.3" fill="#1e1e1e"/>
<rect x="709" y="480.5" width="13.5" height="2" fill="#2a2a2a"/>
<rect x="711.8" y="481" width="8.4" height="8" fill="#1e1e1e"/>
<path d="M708.4,494.7 L708.4,491 C708.4,488 711,487.5 715.6,487.5 C720,487.5 722.9,488 722.9,491 L722.9,494.7 Z" fill="#1e1e1e"/>
<rect x="708.4" y="494.7" width="14.5" height="8.4" fill="#d4d6d8"/>
<rect x="710" y="495.5" width="4" height="6.8" fill="#f4f4f4"/>
<rect x="708.7" y="503" width="15.3" height="12.3" rx="1.5" fill="#1e1e1e"/>
<rect x="701.1" y="501.2" width="4.3" height="13.3" fill="#1e1e1e"/>
<rect x="726.3" y="501.2" width="3.8" height="13.3" fill="#1e1e1e"/>
<rect x="705" y="504" width="4" height="8" fill="#1e1e1e"/>
<rect x="724" y="504" width="2.5" height="8" fill="#1e1e1e"/>
<rect x="113.75" y="116.5" width="8" height="30" rx="2" fill="#1c4cb4"/><rect x="145.25" y="116.5" width="8" height="30" rx="2" fill="#1c4cb4"/><rect x="116.75" y="118.5" width="2" height="26" fill="#2a5cd0"/><rect x="148.25" y="118.5" width="2" height="26" fill="#2a5cd0"/><rect x="120.75" y="123.0" width="25.5" height="17" rx="6" fill="#1f56cc"/><rect x="125.75" y="125.5" width="14" height="3" rx="1.5" fill="#3c74e0"/><rect x="131.75" y="113.5" width="4.5" height="10" fill="#1c4cb4"/>
<path d="M135,117 L146.5,107.5" fill="none" stroke="#2a3560" stroke-width="1.8"/>
<path d="M146,107.5 L170.5,107.5" fill="none" stroke="#a0a4a8" stroke-width="2.2"/>
<rect x="114.7" y="204" width="8" height="30" rx="2" fill="#1c4cb4"/><rect x="146.2" y="204" width="8" height="30" rx="2" fill="#1c4cb4"/><rect x="117.7" y="206" width="2" height="26" fill="#2a5cd0"/><rect x="149.2" y="206" width="2" height="26" fill="#2a5cd0"/><rect x="121.7" y="210.5" width="25.5" height="17" rx="6" fill="#1f56cc"/><rect x="126.7" y="213" width="14" height="3" rx="1.5" fill="#3c74e0"/><rect x="132.7" y="201" width="4.5" height="10" fill="#1c4cb4"/>
<path d="M132,203 L118,195.5" fill="none" stroke="#3a4060" stroke-width="1.6"/>
<path d="M118.5,195.5 L97,195.5" fill="none" stroke="#9a9ea4" stroke-width="2"/>
<rect x="182.5" y="117" width="7.5" height="29" fill="#1e4aa6"/>
<rect x="185" y="117" width="1.5" height="29" fill="#5f7fc8"/>
<rect x="222.5" y="117" width="7" height="29" fill="#1e4aa6"/>
<rect x="189" y="127" width="34" height="9.5" fill="#2450ac"/>
<path d="M192,130 L200,128 L213,141 L206.5,150 Z" fill="#2450ac"/>
<path d="M203,146 L212,137 L216,141 L207,150.5 Z" fill="#1e4aa0"/>
<rect x="285.3" y="97.7" width="46" height="10.5" rx="2" fill="#272d6e"/><rect x="284.3" y="85.7" width="48" height="13.5" rx="3" fill="#d4d8de" stroke="#a8adb5" stroke-width="0.8"/><rect x="296.3" y="86.7" width="28" height="5" fill="#e8eaee"/><rect x="300.3" y="93.2" width="24" height="3" fill="#3c8a5a"/><rect x="302.8" y="107.7" width="12.7" height="9" fill="#1e2360"/><rect x="284.3" y="115.2" width="47" height="33.5" rx="7" fill="#232a74"/><ellipse cx="288.3" cy="131.7" rx="3.5" ry="13" fill="#12163e"/><rect x="304.3" y="131.5" width="14.5" height="8.5" rx="1" fill="#2a50c8" stroke="#d8e0f8" stroke-width="0.8"/><rect x="307.3" y="134.7" width="8" height="2.4" fill="#f0f4ff"/>
<rect x="262.8" y="183" width="46" height="10.5" rx="2" fill="#272d6e"/><rect x="261.8" y="171" width="48" height="13.5" rx="3" fill="#d4d8de" stroke="#a8adb5" stroke-width="0.8"/><rect x="273.8" y="172" width="28" height="5" fill="#e8eaee"/><rect x="277.8" y="178.5" width="24" height="3" fill="#3c8a5a"/><rect x="280.3" y="193" width="12.7" height="9" fill="#1e2360"/><rect x="261.8" y="200.5" width="47" height="33.5" rx="7" fill="#232a74"/><ellipse cx="265.8" cy="217" rx="3.5" ry="13" fill="#12163e"/><rect x="281.8" y="216.8" width="14.5" height="8.5" rx="1" fill="#2a50c8" stroke="#d8e0f8" stroke-width="0.8"/><rect x="284.8" y="220" width="8" height="2.4" fill="#f0f4ff"/>
<path d="M294,186 L294,276" fill="none" stroke="#a8aaac" stroke-width="2"/>
<path d="M313.8,101 L313.8,276" fill="none" stroke="#a8aaac" stroke-width="2"/>
<rect x="285.5" y="276" width="82.5" height="52" rx="3" fill="#8e9cc0"/>
<rect x="287" y="277.5" width="79.5" height="49" rx="2" fill="#aab6d2"/>
<rect x="291" y="286" width="66" height="37" fill="#1c4fd6"/>
<rect x="291" y="286" width="66" height="6" fill="#2a46b0"/>
<rect x="292" y="287" width="14" height="3" fill="#c8d0f0"/>
<rect x="297.5" y="298" width="26.5" height="6" fill="#2c5cc0"/>
<rect x="328" y="300.5" width="5.5" height="5.5" rx="0.8" fill="#e6ecf8"/>
<rect x="335" y="300.5" width="5.5" height="5.5" rx="0.8" fill="#e6ecf8"/>
<rect x="342" y="300.5" width="5.5" height="5.5" rx="0.8" fill="#e6ecf8"/>
<rect x="328" y="307" width="5.5" height="5.5" rx="0.8" fill="#e6ecf8"/>
<rect x="335" y="307" width="5.5" height="5.5" rx="0.8" fill="#e6ecf8"/>
<rect x="342" y="307" width="5.5" height="5.5" rx="0.8" fill="#e6ecf8"/>
<circle cx="348" cy="291" r="2.2" fill="#e6ecf8"/>
<circle cx="295" cy="317" r="2" fill="#e6ecf8"/>
<rect x="291" y="319" width="66" height="4" fill="#2a46b0"/>
<rect x="358" y="290" width="3.5" height="30" fill="#5aa070"/>
<circle cx="360" cy="286" r="2.4" fill="#4a5478"/>
<circle cx="360" cy="325" r="2" fill="#4a5478"/>
<path d="M1083,432 L1080,447 L1091,447 L1096,436 M1114,432 L1121,447 L1110,447 L1104,436" stroke="#c03030" stroke-width="1.6" fill="none"/>
<rect x="1072" y="319.5" width="54" height="117.5" rx="20" ry="13" fill="#d42b2c"/>
<rect x="1084" y="324" width="3" height="108" fill="#e2524f" opacity="0.55"/>
<rect x="1108" y="324" width="3" height="108" fill="#e2524f" opacity="0.45"/>
<rect x="1119" y="330" width="5" height="96" fill="#b82226" opacity="0.5"/>
<line x1="1072" y1="380.5" x2="1126" y2="380.5" stroke="#b01e20" stroke-width="0.8"/>
<rect x="1080" y="345" width="6.5" height="6" fill="#f0e0e0"/>
<circle cx="1098.5" cy="319" r="1.2" fill="#888"/>
<path d="M1090,573.5 L1110.5,579 L1110.5,743 L1090,743 Z" fill="#e5e6e6"/>
<path d="M1089,574 L1093.5,575 L1093.5,743 L1089,743 Z" fill="#f2f2f2"/>
<path d="M995,607 L1089.3,574 L1089.3,742.5 L998,741 Z" fill="#d9d9d4"/>
<path d="M995,607 L1089.3,574 L1089.3,590 L995,622 Z" fill="#dedfdb" opacity="0.6"/>
<rect x="1006" y="738" width="7" height="7" fill="#2a2a2a"/>
<rect x="1030" y="740" width="16" height="4" rx="2" fill="#3a3a3a"/>
<rect x="1001.8" y="616" width="5.2" height="4" rx="0.6" fill="#f4f4f4" stroke="#555" stroke-width="0.7"/>
<rect x="1001.6" y="619.5" width="5.6" height="7" rx="2.4" fill="#de9426"/>
<rect x="1014.6999999999999" y="614" width="5.2" height="4" rx="0.6" fill="#f4f4f4" stroke="#555" stroke-width="0.7"/>
<rect x="1014.5" y="617.5" width="5.6" height="7" rx="2.4" fill="#c81a32"/>
<rect x="1003.5" y="652.5" width="5.2" height="4" rx="0.6" fill="#f4f4f4" stroke="#555" stroke-width="0.7"/>
<rect x="1003.3000000000001" y="656.0" width="5.6" height="7" rx="2.4" fill="#c81a32"/>
<rect x="1016.4" y="650.2" width="5.2" height="4" rx="0.6" fill="#f4f4f4" stroke="#555" stroke-width="0.7"/>
<rect x="1016.2" y="653.7" width="5.6" height="7" rx="2.4" fill="#c81a32"/>
<rect x="1044.6000000000001" y="645" width="5.2" height="4" rx="0.6" fill="#f4f4f4" stroke="#555" stroke-width="0.7"/>
<rect x="1044.4" y="648.5" width="5.6" height="7" rx="2.4" fill="#c81a32"/>
<rect x="1061.0" y="642" width="5.2" height="4" rx="0.6" fill="#f4f4f4" stroke="#555" stroke-width="0.7"/>
<rect x="1060.8" y="645.5" width="5.6" height="7" rx="2.4" fill="#c81a32"/>
<rect x="1004.4" y="670" width="5.2" height="4" rx="0.6" fill="#f4f4f4" stroke="#555" stroke-width="0.7"/>
<rect x="1004.2" y="673.5" width="5.6" height="7" rx="2.4" fill="#19a044"/>
<rect x="1017.0" y="668.2" width="5.2" height="4" rx="0.6" fill="#f4f4f4" stroke="#555" stroke-width="0.7"/>
<rect x="1016.8000000000001" y="671.7" width="5.6" height="7" rx="2.4" fill="#19a044"/>
<rect x="1030.5" y="666.5" width="5.2" height="4" rx="0.6" fill="#f4f4f4" stroke="#555" stroke-width="0.7"/>
<rect x="1030.3" y="670.0" width="5.6" height="7" rx="2.4" fill="#19a044"/>
<rect x="1045.2" y="664.8" width="5.2" height="4" rx="0.6" fill="#f4f4f4" stroke="#555" stroke-width="0.7"/>
<rect x="1045.0" y="668.3" width="5.6" height="7" rx="2.4" fill="#19a044"/>
<rect x="1061.4" y="662.4" width="5.2" height="4" rx="0.6" fill="#f4f4f4" stroke="#555" stroke-width="0.7"/>
<rect x="1061.2" y="665.9" width="5.6" height="7" rx="2.4" fill="#19a044"/>
<rect x="1005.7" y="685.7" width="4.8" height="3.5" fill="#f4f4f4" stroke="#444" stroke-width="0.7"/>
<path d="M1005.6,689.2 L1010.6,689.2 L1010.1,697.7 L1006.1,698.7 Z" fill="#262626"/>
<rect x="1017.9" y="684.2" width="4.8" height="3.5" fill="#f4f4f4" stroke="#444" stroke-width="0.7"/>
<path d="M1017.8,687.7 L1022.8,687.7 L1022.3,696.2 L1018.3,697.2 Z" fill="#262626"/>
<rect x="1031.3999999999999" y="682.6" width="4.8" height="3.5" fill="#f4f4f4" stroke="#444" stroke-width="0.7"/>
<path d="M1031.3,686.1 L1036.3,686.1 L1035.8,694.6 L1031.8,695.6 Z" fill="#262626"/>
<rect x="1046.1" y="680.3" width="4.8" height="3.5" fill="#f4f4f4" stroke="#444" stroke-width="0.7"/>
<path d="M1046.0,683.8 L1051.0,683.8 L1050.5,692.3 L1046.5,693.3 Z" fill="#262626"/>
<rect x="1062.3" y="678.5" width="4.8" height="3.5" fill="#f4f4f4" stroke="#444" stroke-width="0.7"/>
<path d="M1062.2,682.0 L1067.2,682.0 L1066.7,690.5 L1062.7,691.5 Z" fill="#262626"/>
<circle cx="1062" cy="605.3" r="5" fill="#e0283a"/>
<circle cx="1061" cy="604" r="2" fill="#f06070"/>
<path d="M1033.7,629.5 L1029,638 L1038.4,638 Z" fill="#f2d020" stroke="#8a7a10" stroke-width="0.5"/>
<circle cx="1080" cy="725" r="1.6" fill="#444"/>
<circle cx="1082" cy="587" r="1.4" fill="#444"/>
<rect x="1095" y="696.5" width="10" height="14.5" rx="4" fill="#f0b020"/>
<rect x="1099" y="697.5" width="6" height="12.5" rx="3" fill="#d81c24"/>
<rect x="1096" y="590" width="8" height="24" fill="#f2f2f2" stroke="#bbb" stroke-width="0.5"/>
<path d="M1004,734 L1008,727 L1011,733 L1014,727 L1018,734" fill="none" stroke="#d02040" stroke-width="1.4"/>
<path d="M1009,735 L1013,728 L1017,735" fill="none" stroke="#2050c0" stroke-width="1.2"/>
<text x="103.7" y="177" font-family="Liberation Sans" font-weight="bold" font-style="italic" font-size="22" fill="#000" stroke="#000" stroke-width="0.8" textLength="27.4" lengthAdjust="spacingAndGlyphs">УВ</text>
<text x="326.3" y="174.5" font-family="Liberation Sans" font-weight="bold" font-style="italic" font-size="22" fill="#000" stroke="#000" stroke-width="0.8" textLength="50.2" lengthAdjust="spacingAndGlyphs">УУТЭ</text>
<text x="1107" y="182.3" font-family="Liberation Sans" font-weight="bold" font-style="italic" font-size="22" fill="#000" stroke="#000" stroke-width="0.8" textLength="37.2" lengthAdjust="spacingAndGlyphs">ГВС</text>
<text x="956" y="400" font-family="Liberation Sans" font-weight="bold" font-style="italic" font-size="22" fill="#000" stroke="#000" stroke-width="0.8" textLength="29.9" lengthAdjust="spacingAndGlyphs">СО</text>
<text x="1093.8" y="307.75" font-family="Liberation Sans" font-weight="bold" font-style="italic" font-size="22" fill="#000" stroke="#000" stroke-width="0.8" textLength="27.6" lengthAdjust="spacingAndGlyphs">РБ</text>
<text x="790.7" y="682.4" font-family="Liberation Sans" font-weight="bold" font-style="italic" font-size="22" fill="#000" stroke="#000" stroke-width="0.8" textLength="28.2" lengthAdjust="spacingAndGlyphs">СВ</text>
<text x="1080.7" y="793.4" font-family="Liberation Sans" font-weight="bold" font-style="italic" font-size="22" fill="#000" stroke="#000" stroke-width="0.8" textLength="36.3" lengthAdjust="spacingAndGlyphs">ШУ</text>
<use href="#logos" fill="#2b2d31" stroke="#2b2d31" transform="translate(126.9,262) scale(0.1505) translate(-39,-808)"/>
<use href="#logos" fill="#2b2d31" stroke="#2b2d31" transform="translate(284,343.5) scale(0.1505) translate(-39,-808)"/>
<use href="#logos" fill="#2b2d31" stroke="#2b2d31" transform="translate(758,259) scale(0.1505) translate(-39,-808)"/>
<use href="#logos" fill="#2b2d31" stroke="#2b2d31" transform="translate(606,533.5) scale(0.1505) translate(-39,-808)"/>
<use href="#logos" fill="#2b2d31" stroke="#2b2d31" transform="translate(1071.7,532.5) scale(0.1505) translate(-39,-808)"/>
<use href="#logos" fill="#2b2d31" stroke="#2b2d31" transform="translate(494.6,806.7) scale(0.1505) translate(-39,-808)"/>
<use href="#logos" fill="#2b2d31" stroke="#2b2d31" transform="translate(870.8,807) scale(0.1505) translate(-39,-808)"/>
<text x="42.2" y="423.25" font-family="Liberation Sans" font-size="23" fill="#1a1a1a" textLength="201.2" lengthAdjust="spacingAndGlyphs">УВ - модуль ввода</text>
<text x="42.2" y="453.65" font-family="Liberation Sans" font-size="23" fill="#1a1a1a" textLength="223.2" lengthAdjust="spacingAndGlyphs">УУТЭ - модуль учета</text>
<text x="42.2" y="484.05" font-family="Liberation Sans" font-size="23" fill="#1a1a1a" textLength="290.2" lengthAdjust="spacingAndGlyphs">ГВС - модуль системы ГВС</text>
<text x="42.2" y="514.45" font-family="Liberation Sans" font-size="23" fill="#1a1a1a" textLength="360.3" lengthAdjust="spacingAndGlyphs">СО - модуль системы отопления</text>
<text x="42.2" y="544.85" font-family="Liberation Sans" font-size="23" fill="#1a1a1a" textLength="371.2" lengthAdjust="spacingAndGlyphs">СВ - модуль системы вентиляции</text>
<text x="42.2" y="575.25" font-family="Liberation Sans" font-size="23" fill="#1a1a1a" textLength="338.6" lengthAdjust="spacingAndGlyphs">РБ - модуль расширительного</text>
<text x="42.2" y="605.65" font-family="Liberation Sans" font-size="23" fill="#1a1a1a" textLength="50" lengthAdjust="spacingAndGlyphs">бака</text>
<text x="42.2" y="636.05" font-family="Liberation Sans" font-size="23" fill="#1a1a1a" textLength="376" lengthAdjust="spacingAndGlyphs">ШУ - модуль шкафа управления с</text>
<text x="42.2" y="666.45" font-family="Liberation Sans" font-size="23" fill="#1a1a1a" textLength="146" lengthAdjust="spacingAndGlyphs">автоматикой</text>
</svg>
</body></html>
